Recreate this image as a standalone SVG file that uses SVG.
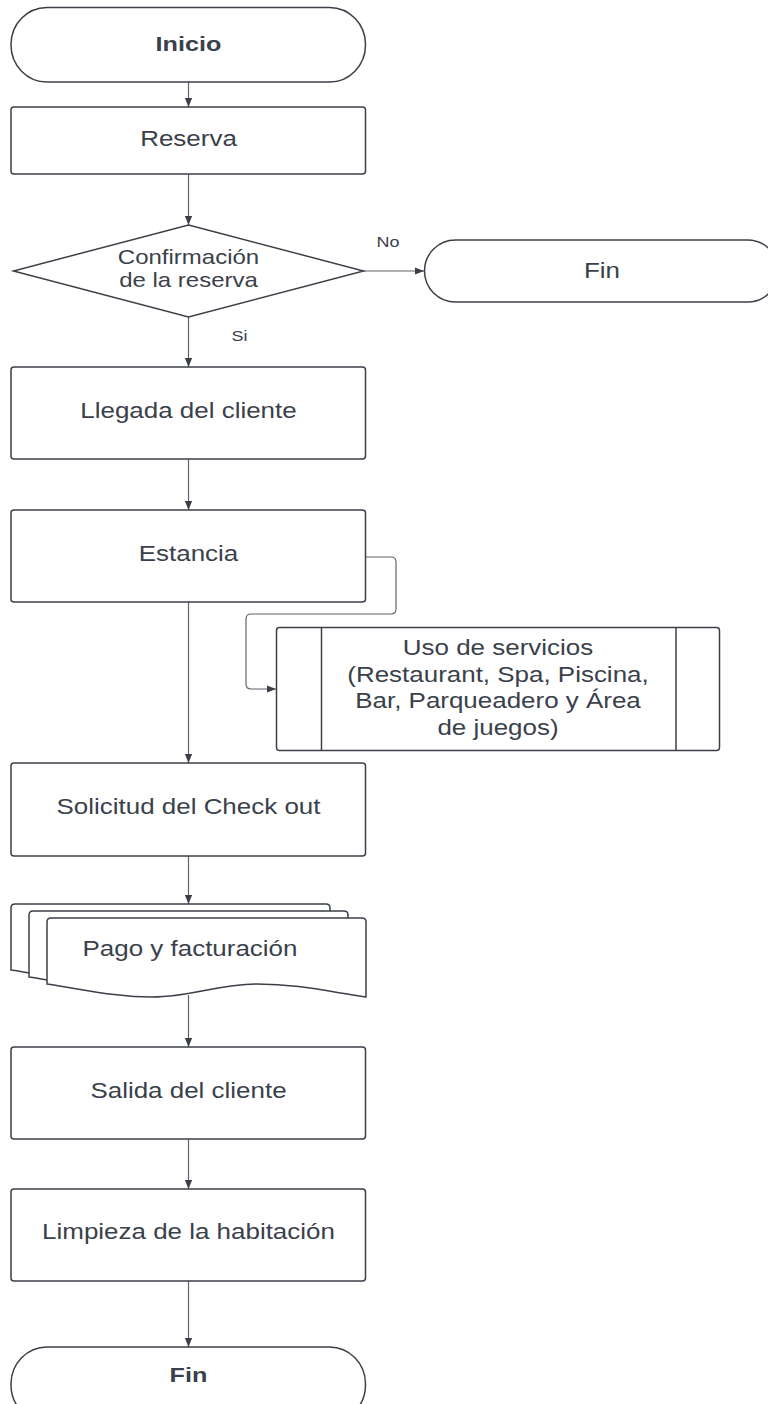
<svg xmlns="http://www.w3.org/2000/svg" width="768" height="1404" viewBox="0 0 768 1404">
<style>
.s{fill:#fff;stroke:#3b4048;stroke-width:1.5}
.c{fill:none;stroke:#5f646b;stroke-width:1.2}
.t{font-family:"Liberation Sans",Arial,sans-serif;font-size:22px;fill:#3a414a;text-anchor:middle}
.b{font-weight:bold;font-size:21px}
.d{font-size:20px}
.l{font-size:15px}
</style>
<defs>
<marker id="a" viewBox="0 0 10 8" refX="10" refY="4" markerWidth="9" markerHeight="7.5" markerUnits="userSpaceOnUse" orient="auto">
<path d="M0,0 L10,4 L0,8 Z" fill="#3b4048"/>
</marker>
</defs>
<rect width="768" height="1404" fill="#fff"/>
<g id="connectors">
<line class="c" x1="188.5" y1="82" x2="188.5" y2="107" marker-end="url(#a)"/>
<line class="c" x1="188.5" y1="174" x2="188.5" y2="225" marker-end="url(#a)"/>
<line class="c" x1="363.5" y1="271" x2="424" y2="271" marker-end="url(#a)"/>
<line class="c" x1="188.5" y1="317" x2="188.5" y2="367" marker-end="url(#a)"/>
<line class="c" x1="188.5" y1="459" x2="188.5" y2="510" marker-end="url(#a)"/>
<path class="c" d="M366,557 H391 Q396,557 396,562 V609 Q396,614 391,614 H251 Q246,614 246,619 V684 Q246,689 251,689 H276" marker-end="url(#a)"/>
<line class="c" x1="188.5" y1="602" x2="188.5" y2="763" marker-end="url(#a)"/>
<line class="c" x1="188.5" y1="856" x2="188.5" y2="904" marker-end="url(#a)"/>
<line class="c" x1="188.5" y1="995" x2="188.5" y2="1047" marker-end="url(#a)"/>
<line class="c" x1="188.5" y1="1139" x2="188.5" y2="1189" marker-end="url(#a)"/>
<line class="c" x1="188.5" y1="1281" x2="188.5" y2="1347" marker-end="url(#a)"/>
<text class="t l" transform="translate(388,247) scale(1.2,1)">No</text>
<text class="t l" transform="translate(239.5,340.5) scale(1.2,1)">Si</text>
</g>
<g id="inicio">
<rect class="s" x="11" y="7.5" width="354.5" height="74.5" rx="36" ry="37"/>
<text class="t b" transform="translate(188.5,50.5) scale(1.2,1)">Inicio</text>
</g>
<g id="reserva">
<rect class="s" x="11" y="107" width="354.5" height="67" rx="3"/>
<text class="t" transform="translate(188.5,146) scale(1.18,1)">Reserva</text>
</g>
<g id="confirmacion">
<polygon class="s" points="188.5,225 363.5,271 188.5,317 13.5,271"/>
<text class="t d" transform="translate(188.5,264) scale(1.2,1)"><tspan x="0" y="0">Confirmación</tspan><tspan x="0" y="23.5">de la reserva</tspan></text>
</g>
<g id="fin-no">
<rect class="s" x="424.5" y="240" width="354" height="62" rx="31" ry="31"/>
<text class="t" transform="translate(602,278) scale(1.18,1)">Fin</text>
</g>
<g id="llegada">
<rect class="s" x="11" y="367" width="354.5" height="92" rx="3"/>
<text class="t" transform="translate(188.5,418) scale(1.18,1)">Llegada del cliente</text>
</g>
<g id="estancia">
<rect class="s" x="11" y="510" width="354.5" height="92" rx="3"/>
<text class="t" transform="translate(188.5,561) scale(1.18,1)">Estancia</text>
</g>
<g id="servicios">
<rect class="s" x="276.5" y="627.5" width="443" height="123" rx="3"/>
<line class="s" x1="321.5" y1="627.5" x2="321.5" y2="750.5"/>
<line class="s" x1="676" y1="627.5" x2="676" y2="750.5"/>
<text class="t" transform="translate(498,655) scale(1.18,1)"><tspan x="0" y="0">Uso de servicios</tspan><tspan x="0" y="26.7">(Restaurant, Spa, Piscina,</tspan><tspan x="0" y="53.4">Bar, Parqueadero y Área</tspan><tspan x="0" y="80">de juegos)</tspan></text>
</g>
<g id="checkout">
<rect class="s" x="11" y="763" width="354.5" height="93" rx="3"/>
<text class="t" transform="translate(188.5,814) scale(1.18,1)">Solicitud del Check out</text>
</g>
<g id="pago">
<path class="s" d="M11,970 V908 Q11,904 15,904 H326 Q330,904 330,908 V983 C290,977 260,970 221,970 C181,970 156,983 116,983 C81,983 51,976 11,970 Z"/>
<path class="s" d="M29,977 V915 Q29,911 33,911 H344 Q348,911 348,915 V990 C308,984 278,977 239,977 C199,977 174,990 134,990 C99,990 69,983 29,977 Z"/>
<path class="s" d="M47,984 V922 Q47,918 51,918 H362 Q366,918 366,922 V997 C326,991 296,984 257,984 C217,984 192,997 152,997 C117,997 87,990 47,984 Z"/>
<text class="t" transform="translate(190,956) scale(1.18,1)">Pago y facturación</text>
</g>
<g id="salida">
<rect class="s" x="11" y="1047" width="354.5" height="92" rx="3"/>
<text class="t" transform="translate(188.5,1098) scale(1.18,1)">Salida del cliente</text>
</g>
<g id="limpieza">
<rect class="s" x="11" y="1189" width="354.5" height="92" rx="3"/>
<text class="t" transform="translate(188.5,1239) scale(1.18,1)">Limpieza de la habitación</text>
</g>
<g id="fin">
<rect class="s" x="11" y="1347" width="354.5" height="75" rx="36" ry="37"/>
<text class="t b" transform="translate(188.5,1382) scale(1.2,1)">Fin</text>
</g>
</svg>
